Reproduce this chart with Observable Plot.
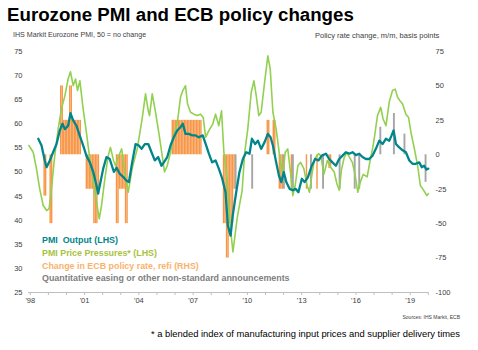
<!DOCTYPE html>
<html><head><meta charset="utf-8">
<script src="https://cdn.jsdelivr.net/npm/d3@7"></script>
<script src="https://cdn.jsdelivr.net/npm/@observablehq/plot@0.6"></script>
<style>
body{margin:0;background:#fff;font-family:"Liberation Sans",Arial,sans-serif;}
#wrap{position:relative;width:478px;height:350px;overflow:hidden;background:#fff;}
#wrap svg{position:absolute;left:0;top:0;}
.t{position:absolute;white-space:pre;}
</style></head><body>
<div id="wrap">
<div class="t" style="left:7px;top:5.5px;font-size:18.7px;line-height:18.7px;font-weight:bold;color:#000">Eurozone PMI and ECB policy changes</div>
<div class="t" style="left:13px;top:31.5px;font-size:7.1px;line-height:7.1px;color:#404040">IHS Markit Eurozone PMI, 50 = no change</div>
<div class="t" style="left:315px;top:32px;font-size:7.5px;line-height:7.5px;color:#404040">Policy rate change, m/m, basis points</div>
<div class="t" style="left:42px;top:236.3px;font-size:8.9px;line-height:8.9px;font-weight:bold;color:#00868a">PMI  Output (LHS)</div>
<div class="t" style="left:42px;top:248.8px;font-size:8.9px;line-height:8.9px;font-weight:bold;color:#a9c23f">PMI Price Pressures* (LHS)</div>
<div class="t" style="left:42px;top:261.5px;font-size:8.9px;line-height:8.9px;font-weight:bold;color:#f9b26b">Change in ECB policy rate, refi (RHS)</div>
<div class="t" style="left:42px;top:273.5px;font-size:8.9px;line-height:8.9px;font-weight:bold;color:#808080">Quantitative easing or other non-standard announcements</div>
<div class="t" style="right:18px;top:315px;font-size:5px;line-height:5px;color:#404040">Sources: IHS Markit, ECB</div>
<div class="t" style="right:18px;top:328.6px;font-size:9.4px;line-height:9.4px;color:#000">* a blended index of manufacturing input prices and supplier delivery times</div>
</div>
<script>
// PMI Output (LHS): [decimal year, index]
const pmiOutput = [
[1998.44,56.9],[1998.62,55.5],[1998.80,52.4],[1998.90,51.0],[1999.08,52.4],[1999.26,54.1],[1999.45,55.8],[1999.63,58.6],
[1999.78,60.0],[1999.91,58.9],[2000.09,59.6],[2000.22,62.2],[2000.37,60.7],[2000.55,59.6],[2000.70,57.9],[2000.92,55.5],
[2001.10,53.4],[2001.29,52.0],[2001.48,50.0],[2001.66,47.2],[2001.75,45.5],[2001.84,47.2],[2002.03,50.7],[2002.21,53.1],
[2002.39,52.7],[2002.62,50.0],[2002.77,50.9],[2002.95,49.6],[2003.13,49.0],[2003.32,48.2],[2003.45,47.9],[2003.63,52.0],
[2003.82,55.8],[2004.00,55.5],[2004.15,54.8],[2004.33,55.8],[2004.52,55.8],[2004.70,54.1],[2004.88,52.4],[2005.07,53.1],
[2005.25,51.3],[2005.38,52.0],[2005.57,53.1],[2005.75,55.5],[2005.93,57.2],[2006.12,58.6],[2006.30,59.3],[2006.43,60.0],
[2006.58,57.9],[2006.76,57.9],[2006.95,57.6],[2007.13,57.6],[2007.31,57.2],[2007.53,57.6],[2007.72,55.5],[2007.87,53.8],
[2008.05,52.0],[2008.24,52.4],[2008.42,50.7],[2008.61,48.6],[2008.79,45.8],[2008.92,38.9],[2009.07,36.8],[2009.19,41.0],
[2009.38,45.8],[2009.56,50.0],[2009.75,52.7],[2009.93,54.1],[2010.12,53.8],[2010.25,56.9],[2010.43,55.8],[2010.58,56.5],
[2010.76,54.8],[2010.95,56.2],[2011.13,57.9],[2011.28,57.2],[2011.41,55.5],[2011.59,52.0],[2011.74,49.3],[2011.87,47.9],
[2012.01,50.0],[2012.15,47.9],[2012.33,46.5],[2012.51,46.2],[2012.66,46.5],[2012.82,45.8],[2013.01,48.6],[2013.16,47.9],
[2013.34,48.9],[2013.56,51.3],[2013.75,52.7],[2013.93,52.4],[2014.11,53.4],[2014.34,53.8],[2014.52,52.7],[2014.70,52.0],
[2014.89,51.3],[2015.07,52.7],[2015.26,53.4],[2015.44,54.1],[2015.63,53.8],[2015.81,54.1],[2016.00,53.5],[2016.18,53.8],
[2016.36,53.1],[2016.55,52.7],[2016.73,52.7],[2016.92,53.4],[2017.10,54.8],[2017.29,56.5],[2017.47,55.8],[2017.66,56.9],
[2017.84,56.5],[2017.97,57.6],[2018.08,58.6],[2018.21,55.8],[2018.39,55.1],[2018.58,54.5],[2018.76,54.1],[2018.95,52.4],
[2019.13,51.7],[2019.31,51.7],[2019.50,52.0],[2019.64,51.0],[2019.77,51.3],[2019.90,50.5],[2020.00,50.7]
];
// PMI Price Pressures (LHS)
const pmiPrices = [
[1997.92,55.5],[1998.16,54.1],[1998.34,50.7],[1998.52,46.5],[1998.71,43.1],[1998.90,42.0],[1999.04,42.4],[1999.17,46.5],
[1999.35,53.4],[1999.54,58.9],[1999.72,63.1],[1999.91,65.8],[2000.09,69.3],[2000.22,70.8],[2000.37,67.9],[2000.50,69.3],
[2000.61,66.9],[2000.74,68.9],[2000.92,63.1],[2001.10,58.2],[2001.29,52.7],[2001.48,47.9],[2001.66,43.8],[2001.81,40.3],
[2001.94,43.1],[2002.12,48.6],[2002.31,53.4],[2002.43,55.1],[2002.60,52.4],[2002.71,51.3],[2002.85,53.0],[2003.05,54.8],
[2003.25,49.0],[2003.41,45.8],[2003.63,50.7],[2003.91,54.8],[2004.18,61.0],[2004.37,66.2],[2004.52,62.7],[2004.59,61.7],
[2004.74,66.2],[2004.92,62.4],[2005.10,58.2],[2005.29,53.4],[2005.42,50.0],[2005.57,51.3],[2005.75,54.1],[2005.93,57.6],
[2006.12,60.0],[2006.30,65.5],[2006.43,66.9],[2006.58,67.9],[2006.69,64.1],[2006.86,62.4],[2007.04,62.0],[2007.22,61.7],
[2007.41,62.0],[2007.56,61.3],[2007.69,57.2],[2007.87,58.6],[2008.09,60.0],[2008.24,62.0],[2008.42,59.6],[2008.57,62.7],
[2008.70,54.1],[2008.88,48.6],[2009.01,40.3],[2009.20,33.4],[2009.44,40.6],[2009.71,46.2],[2009.85,54.0],[2010.02,58.9],
[2010.21,66.5],[2010.36,68.9],[2010.49,65.8],[2010.63,61.7],[2010.76,62.4],[2010.95,68.6],[2011.13,74.1],[2011.26,71.4],
[2011.41,62.4],[2011.59,58.9],[2011.78,53.4],[2011.96,49.3],[2012.09,54.1],[2012.23,54.8],[2012.38,50.0],[2012.51,45.1],
[2012.64,47.2],[2012.79,51.3],[2012.94,52.0],[2013.12,50.7],[2013.30,47.2],[2013.43,45.8],[2013.56,49.3],[2013.71,52.7],
[2013.93,53.8],[2014.05,53.4],[2014.23,49.6],[2014.42,52.4],[2014.60,51.0],[2014.80,50.0],[2014.95,47.5],[2015.08,46.2],
[2015.20,50.5],[2015.35,53.0],[2015.50,54.0],[2015.65,53.0],[2015.80,52.0],[2015.95,49.5],[2016.10,45.8],[2016.25,48.0],
[2016.40,49.5],[2016.62,49.0],[2016.80,52.7],[2016.90,54.5],[2017.01,56.9],[2017.19,61.7],[2017.37,63.4],[2017.50,61.0],
[2017.66,59.6],[2017.84,64.5],[2018.02,66.9],[2018.17,67.2],[2018.30,65.5],[2018.43,64.8],[2018.58,64.1],[2018.76,62.0],
[2018.91,61.3],[2019.04,58.2],[2019.23,54.8],[2019.41,51.3],[2019.56,47.2],[2019.69,46.5],[2019.81,45.8],[2019.92,45.1],
[2020.00,45.5]
];
// Change in ECB refi rate (RHS, basis points), by month
const refiChanges = [
["1998-10",-30],["1998-11",-30],["1999-02",-50],["1999-03",-50],
["1999-09",50],["1999-10",50],["1999-11",25],["1999-12",25],["2000-01",25],["2000-02",25],["2000-03",50],["2000-04",50],
["2000-05",25],["2000-06",25],["2000-07",25],["2000-08",25],["2000-09",25],["2000-10",25],
["2001-02",-25],["2001-03",-25],["2001-04",-25],["2001-05",-25],["2001-06",-25],["2001-07",-50],["2001-08",-50],["2001-09",-50],["2001-10",-25],
["2002-10",-50],["2002-11",-50],["2002-12",-25],["2003-01",-25],["2003-02",-25],["2003-03",-25],["2003-04",-50],["2003-05",-50],
["2005-11",25],["2005-12",25],["2006-01",25],["2006-02",25],["2006-03",25],["2006-04",25],["2006-05",25],["2006-06",25],
["2006-07",25],["2006-08",25],["2006-09",25],["2006-10",25],["2006-11",25],["2006-12",25],["2007-01",25],["2007-02",25],
["2007-03",25],["2007-04",25],["2007-05",25],["2007-06",25],
["2008-09",-50],["2008-10",-50],["2008-11",-75],["2008-12",-75],["2009-01",-50],["2009-02",-50],["2009-03",-50],["2009-04",-25],
["2011-02",25],["2011-03",25],["2011-06",25],["2011-07",25],
["2011-10",-25],["2011-11",-25],["2011-12",-25],["2012-06",-25],["2013-04",-25],["2013-11",-25],
["2014-07",-10],["2014-08",-10]
];
// QE / non-standard announcements (RHS scale)
const qeEvents = [
["2009-05",-25],["2010-04",-25],["2012-01",-25],["2012-07",-25],["2013-07",-25],["2014-03",-25],["2015-02",-25],
["2015-12",-25],["2016-03",-25],["2017-05",20],["2018-02",30],["2018-09",15],["2019-11",-20]
];
const leftTicks = [25,30,35,40,45,50,55,60,65,70,75];
const rightTicks = [-100,-75,-50,-25,0,25,50,75];
const yearTicks = [1998,1999,2000,2001,2002,2003,2004,2005,2006,2007,2008,2009,2010,2011,2012,2013,2014,2015,2016,2017,2018,2019,2020];
const yearLabels = [1998,2001,2004,2007,2010,2013,2016,2019];

// RHS (-100..75) mapped onto LHS (25..75)
const conv = r => 25 + (r + 100) * 50 / 175;
const back = v => Math.round((v - 25) * 175 / 50 - 100);
const mo = s => { const [y, m] = s.split("-").map(Number); return y + (m - 1) / 12; };

const chart = Plot.plot({
  width: 478, height: 350,
  marginLeft: 28, marginRight: 50, marginTop: 51, marginBottom: 58,
  style: {fontFamily: "Liberation Sans, Arial, sans-serif", fontSize: "7.5px", color: "#404040", background: "transparent"},
  x: {type: "linear", domain: [1997.9, 2020.01]},
  y: {domain: [25, 75]},
  marks: [
    Plot.rect(refiChanges, {x1: d => mo(d[0]), x2: d => mo(d[0]) + 1/12, y1: conv(0), y2: d => conv(d[1]), fill: "#f79646", insetLeft: 0.05, insetRight: 0.05}),
    Plot.rect(qeEvents, {x1: d => mo(d[0]), x2: d => mo(d[0]) + 1/12, y1: conv(0), y2: d => conv(d[1]), fill: "#a6a6a6", insetLeft: -0.2, insetRight: -0.2}),
    Plot.line(pmiPrices, {x: d => d[0], y: d => d[1], stroke: "#92d050", strokeWidth: 1.6}),
    Plot.line(pmiOutput, {x: d => d[0], y: d => d[1], stroke: "#00868a", strokeWidth: 2.3}),
    Plot.ruleY([25], {stroke: "#bfbfbf", strokeWidth: 1}),
    Plot.axisX(yearTicks, {tickSize: 3, stroke: "#bfbfbf", tickFormat: () => ""}),
    Plot.axisX(yearLabels, {tickSize: 0, tickPadding: 5, tickFormat: d => "'" + String(d).slice(2), fill: "#404040"}),
    Plot.axisY(leftTicks, {anchor: "left", tickSize: 0, tickPadding: 6, fill: "#404040"}),
    Plot.axisY(rightTicks.map(conv), {anchor: "right", tickSize: 0, tickPadding: 7, tickFormat: d => String(back(d)), fill: "#404040"})
  ]
});
document.getElementById("wrap").prepend(chart);
</script>
</body></html>
